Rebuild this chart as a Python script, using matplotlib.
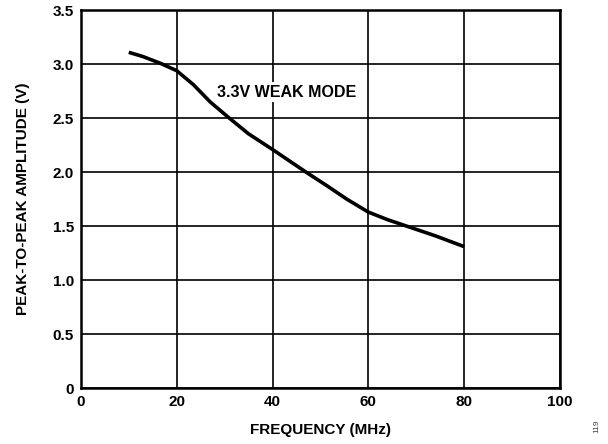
import matplotlib
matplotlib.use("Agg")
import matplotlib.pyplot as plt

freq = [10, 13, 16.5, 20, 23.5, 27, 31, 35, 40, 43, 47, 51.5, 55.5, 60, 64, 68, 74, 80]
amp = [3.11, 3.07, 3.01, 2.94, 2.81, 2.65, 2.50, 2.355, 2.21, 2.12, 2.00, 1.87, 1.75, 1.63, 1.56, 1.50, 1.41, 1.31]
xticks = [0, 20, 40, 60, 80, 100]
yticks = [0, 0.5, 1.0, 1.5, 2.0, 2.5, 3.0, 3.5]
ytick_labels = ["0", "0.5", "1.0", "1.5", "2.0", "2.5", "3.0", "3.5"]

plt.rcParams['font.family'] = ['Liberation Sans', 'DejaVu Sans']
fig = plt.figure(figsize=(6.08, 4.44), dpi=100)
ax = fig.add_axes([0.133, 0.126, 0.788, 0.851])
ax.plot(freq, amp, color='black', lw=2.6, solid_capstyle='butt', solid_joinstyle='round', zorder=3)
ax.set_xlim(0, 100)
ax.set_ylim(0, 3.5)
ax.set_xticks(xticks)
ax.set_yticks(yticks)
ax.set_yticklabels(ytick_labels)
ax.grid(True, color='black', lw=1.2, zorder=1)
ax.set_axisbelow(True)
ax.tick_params(length=0, labelsize=11, pad=5)
for lab in ax.get_xticklabels() + ax.get_yticklabels():
    lab.set_fontweight('bold')
for s in ax.spines.values():
    s.set_linewidth(1.8)
ax.set_xlabel("FREQUENCY (MHz)", fontsize=11, fontweight='bold', labelpad=10)
ax.set_ylabel("PEAK-TO-PEAK AMPLITUDE (V)", fontsize=11, fontweight='bold', labelpad=16)
ax.text(43, 2.74, "3.3V WEAK MODE", fontsize=11.5, fontweight='bold', ha='center', va='center',
        bbox=dict(facecolor='white', edgecolor='none', pad=2), zorder=2.5)
fig.text(0.982, 0.04, "119", rotation=90, fontsize=6, color='#444444', ha='center', va='center')
fig.savefig("out.png", dpi=100)
